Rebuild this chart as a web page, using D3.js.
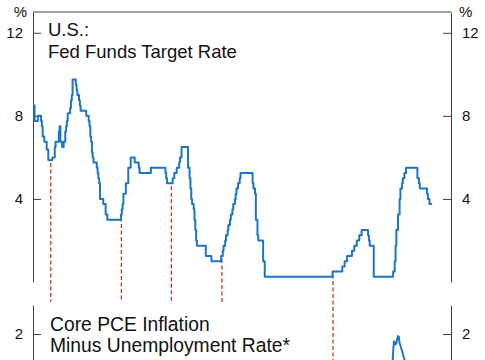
<!DOCTYPE html>
<html><head><meta charset="utf-8">
<script src="https://cdn.jsdelivr.net/npm/d3@7"></script>
<style>
body{margin:0;background:#fff}
svg{display:block}
text{font-family:"Liberation Sans",Arial,Helvetica,sans-serif;fill:#111}
</style>
</head><body>
<svg id="c" width="485" height="360"></svg>
<script>
// ---- data ----
// Fed funds target rate (upper bound), change points: [month, %]
const fedFunds = [
["1985-01",8.5],["1985-03",7.75],["1985-07",8.0],["1985-11",7.75],["1985-12",7.5],["1986-01",7.0],
["1986-03",6.75],["1986-06",6.375],["1986-08",5.875],["1987-01",6.0],["1987-04",6.5],["1987-05",6.75],
["1987-09",7.25],["1987-10",7.5],["1987-11",6.75],["1988-01",6.5],["1988-03",6.75],["1988-05",7.25],
["1988-06",7.5],["1988-07",7.75],["1988-08",8.125],["1988-11",8.375],["1988-12",8.75],["1989-01",9.0],
["1989-02",9.75],["1989-06",9.5],["1989-07",9.25],["1989-08",9.0],["1989-10",8.75],["1989-11",8.5],
["1989-12",8.25],["1990-07",8.0],["1990-10",7.75],["1990-11",7.5],["1990-12",7.0],["1991-01",6.75],
["1991-02",6.25],["1991-03",6.0],["1991-04",5.75],["1991-08",5.5],["1991-09",5.25],["1991-10",5.0],
["1991-11",4.75],["1991-12",4.0],["1992-04",3.75],["1992-07",3.25],["1992-09",3.0],["1994-02",3.25],
["1994-03",3.5],["1994-04",3.75],["1994-05",4.25],["1994-08",4.75],["1994-11",5.5],["1995-02",6.0],
["1995-07",5.75],["1995-12",5.5],["1996-01",5.25],["1997-03",5.5],["1998-09",5.25],["1998-10",5.0],
["1998-11",4.75],["1999-06",5.0],["1999-08",5.25],["1999-11",5.5],["2000-02",5.75],["2000-03",6.0],
["2000-05",6.5],["2001-01",5.5],["2001-03",5.0],["2001-04",4.5],["2001-05",4.0],["2001-06",3.75],
["2001-08",3.5],["2001-09",3.0],["2001-10",2.5],["2001-11",2.0],["2001-12",1.75],["2002-11",1.25],
["2003-06",1.0],["2004-06",1.25],["2004-08",1.5],["2004-09",1.75],["2004-11",2.0],["2004-12",2.25],
["2005-02",2.5],["2005-03",2.75],["2005-05",3.0],["2005-06",3.25],["2005-08",3.5],["2005-09",3.75],
["2005-11",4.0],["2005-12",4.25],["2006-01",4.5],["2006-03",4.75],["2006-05",5.0],["2006-06",5.25],
["2007-09",4.75],["2007-10",4.5],["2007-12",4.25],["2008-01",3.0],["2008-03",2.25],["2008-04",2.0],
["2008-10",1.0],["2008-12",0.25],["2015-12",0.5],["2016-12",0.75],["2017-03",1.0],["2017-06",1.25],
["2017-12",1.5],["2018-03",1.75],["2018-06",2.0],["2018-09",2.25],["2018-12",2.5],["2019-08",2.25],
["2019-09",2.0],["2019-10",1.75],["2020-03",0.25],["2022-03",0.5],["2022-05",1.0],["2022-06",1.75],
["2022-07",2.5],["2022-09",3.25],["2022-11",4.0],["2022-12",4.5],["2023-02",4.75],["2023-03",5.0],
["2023-05",5.25],["2023-07",5.5],["2024-09",5.0],["2024-11",4.75],["2024-12",4.5],["2025-09",4.25],
["2025-10",4.0],["2025-12",3.75],["2026-03",3.75]
];
// Core PCE inflation minus unemployment rate: [month, % pts]
const pceGap = [
["1985-06",-3.3],["1986-06",-3.5],["1987-06",-2.9],["1988-06",-1.3],["1989-06",-1.1],["1990-06",-1.7],
["1991-06",-3.3],["1992-06",-4.6],["1993-06",-4.6],["1994-06",-4.0],["1995-06",-3.5],["1996-06",-3.7],
["1997-06",-3.3],["1998-06",-3.2],["1999-06",-2.8],["2000-06",-2.2],["2001-06",-2.8],["2002-06",-4.2],
["2003-06",-4.6],["2004-06",-3.4],["2005-06",-2.9],["2006-06",-2.3],["2007-06",-2.4],["2008-06",-3.8],
["2009-06",-8.0],["2010-06",-8.4],["2011-06",-7.3],["2012-06",-6.2],["2013-06",-5.9],["2014-06",-4.6],
["2015-06",-4.0],["2016-06",-3.2],["2017-06",-2.8],["2018-06",-1.9],["2019-06",-2.0],["2020-01",-1.8],
["2020-04",-13.8],["2020-10",-5.5],["2021-03",-4.0],["2021-06",-2.3],["2021-09",-1.0],["2021-12",-0.2],
["2022-01",0.2],["2022-02",0.5],["2022-03",1.1],["2022-04",1.65],["2022-05",1.6],["2022-06",1.5],
["2022-07",1.55],["2022-08",1.75],["2022-09",1.9],["2022-10",1.88],["2022-11",1.55],["2022-12",1.45],
["2023-01",1.3],["2023-02",1.2],["2023-03",1.05],["2023-04",0.9],["2023-05",0.8],["2023-06",0.6],
["2023-09",-0.2],["2024-01",-0.8],["2024-06",-1.4],["2025-01",-1.4],["2025-06",-1.6],["2025-12",-1.7]
];
// Start of tightening cycles (dashed markers)
const cycleStarts = ["1986-11-01","1994-02-15","1999-04-15","2004-07-01","2015-12-16"];
const cycleToLower = [false,false,false,false,true];
const topTicks = [4,8,12];
const lowTicks = [2];
const topTitle = ["U.S.:","Fed Funds Target Rate"];
const lowTitle = ["Core PCE Inflation","Minus Unemployment Rate*"];

// ---- drawing ----
const svg = d3.select("#c");
const pm = d3.timeParse("%Y-%m"), pd = d3.timeParse("%Y-%m-%d");
const L = 33, R = 451;
const x = d3.scaleTime().domain([pd("1985-01-01"), pd("2028-02-20")]).range([L, R]);
const yTop = d3.scaleLinear().domain([0, 13]).range([282, 12]);
const yLow = d3.scaleLinear().domain([0, 3.4]).range([375.5, 305]);

const ff = fedFunds.map(d => ({t: pm(d[0]), v: d[1]}));
const pg = pceGap.map(d => ({t: pm(d[0]), v: d[1]}));
const blue = "#1d76c0";
const fmt = d3.format("d");

function styleAxis(g){
  g.select(".domain").attr("stroke", "#444").attr("stroke-width", 1);
  g.selectAll(".tick line").attr("stroke", "#444").attr("stroke-width", 1);
  g.selectAll(".tick text").attr("font-size", 15).attr("fill", "#111")
    .style("font-family", '"Liberation Sans",Arial,sans-serif');
}
// top panel axes
svg.append("g").attr("transform", `translate(${L},0)`)
  .call(d3.axisLeft(yTop).tickValues(topTicks).tickFormat(fmt).tickSize(-8).tickSizeOuter(0).tickPadding(10))
  .call(styleAxis);
svg.append("g").attr("transform", `translate(${R},0)`)
  .call(d3.axisRight(yTop).tickValues(topTicks).tickFormat(fmt).tickSize(-8).tickSizeOuter(0).tickPadding(11))
  .call(styleAxis);
svg.append("line").attr("x1", L).attr("x2", R).attr("y1", yTop.range()[1]).attr("y2", yTop.range()[1])
  .attr("stroke", "#444").attr("stroke-width", 1);
// lower panel axes
svg.append("g").attr("transform", `translate(${L},0)`)
  .call(d3.axisLeft(yLow).tickValues(lowTicks).tickFormat(fmt).tickSize(-8).tickSizeOuter(0).tickPadding(10))
  .call(styleAxis);
svg.append("g").attr("transform", `translate(${R},0)`)
  .call(d3.axisRight(yLow).tickValues(lowTicks).tickFormat(fmt).tickSize(-8).tickSizeOuter(0).tickPadding(11))
  .call(styleAxis);

// % units
svg.append("text").attr("x", 27).attr("y", 17).attr("text-anchor", "end").attr("font-size", 15).text("%");
svg.append("text").attr("x", 459).attr("y", 17).attr("font-size", 15).text("%");

// titles
svg.selectAll(".tt").data(topTitle).join("text").attr("x", 48).attr("y", (d, i) => 36 + i * 21.5)
  .attr("font-size", 18.5).text(d => d);
svg.selectAll(".lt").data(lowTitle).join("text").attr("x", 50).attr("y", (d, i) => 330.5 + i * 21.3)
  .attr("font-size", 19.3).text(d => d);

// dashed cycle markers
const bis = d3.bisector(d => d.t).right;
function ffAt(t){ return ff[Math.max(0, bis(ff, t) - 1)].v; }
function pgAt(t){
  const i = bis(pg, t);
  const a = pg[Math.max(0, i - 1)], b = pg[Math.min(pg.length - 1, i)];
  if (a === b) return a.v;
  return a.v + (b.v - a.v) * (t - a.t) / (b.t - a.t);
}
cycleStarts.forEach((s, i) => {
  const t = pd(s);
  svg.append("line")
    .attr("x1", x(t)).attr("x2", x(t))
    .attr("y1", yTop(ffAt(t)) + 3)
    .attr("y2", cycleToLower[i] ? yLow(pgAt(t)) : yTop(0) + 20)
    .attr("stroke", "#c0392b").attr("stroke-width", 1.3).attr("stroke-dasharray", "4,2.5");
});

// fed funds line
svg.append("path").datum(ff)
  .attr("d", d3.line().x(d => x(d.t)).y(d => yTop(d.v)).curve(d3.curveStepAfter))
  .attr("fill", "none").attr("stroke", blue).attr("stroke-width", 2).attr("stroke-linejoin", "round");

// lower line (clipped to lower panel)
svg.append("clipPath").attr("id", "lowclip").append("rect")
  .attr("x", L).attr("y", 305).attr("width", R - L).attr("height", 200);
svg.append("path").datum(pg).attr("clip-path", "url(#lowclip)")
  .attr("d", d3.line().x(d => x(d.t)).y(d => yLow(d.v)))
  .attr("fill", "none").attr("stroke", blue).attr("stroke-width", 2).attr("stroke-linejoin", "round");
</script>
</body></html>
